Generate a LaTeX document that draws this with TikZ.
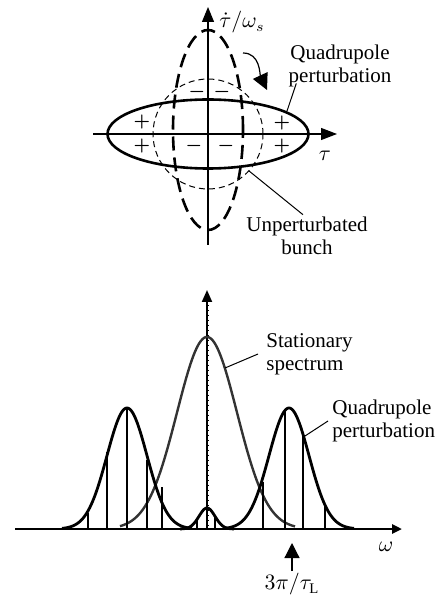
\documentclass[tikz,border=0pt]{standalone}
\usepackage{fontspec}
\setmainfont{Liberation Serif}
\usetikzlibrary{positioning,arrows.meta,shapes.geometric}

\begin{document}
\begin{tikzpicture}[x=0.5pt, y=0.5pt, >=Stealth,
  lbl/.style={font=\fontsize{10.5}{11.5}\selectfont, inner sep=1pt},
  sgn/.style={font=\fontsize{9}{9}\selectfont\boldmath, inner sep=0pt},
  stem/.style={line width=0.7pt},
  hump/.style={line width=1.4pt, line join=round}]
  \useasboundingbox (0,0) rectangle (435,-603);

  % phase plane
  \coordinate (o) at (208,-134);
  \draw[line width=0.6pt, -{Triangle[length=8pt,width=6pt]}] (93,-134) -- (337,-134) coordinate (taxis);
  \draw[line width=0.6pt, -{Triangle[length=7.5pt,width=6pt]}] (208,-245) -- (208,-7) coordinate (vaxis);
  \node[draw, circle, line width=0.5pt, dash pattern=on 3pt off 2pt, minimum size=55pt, inner sep=0pt] (bunch) at (o) {};
  \node[draw, ellipse, line width=1.3pt, dash pattern=on 7pt off 3.5pt, minimum width=35pt, minimum height=100pt, inner sep=0pt] (quadv) at (208,-130) {};
  \node[draw, ellipse, line width=1.3pt, minimum width=100.5pt, minimum height=34.5pt, inner sep=0pt] (quad) at (o) {};

  \node[sgn] (p1) at (142,-122) {$+$};
  \node[sgn] (p2) at (142,-146) {$+$};
  \node[sgn] (p3) at (282,-123) {$+$};
  \node[sgn] (p4) at (282,-146) {$+$};
  \node[sgn] (m1) at (194,-146) {$-$};
  \node[sgn] (m2) at (226,-146) {$-$};
  \node[sgn] (m3) at (197,-92) {$-$};
  \node[sgn] (m4) at (222,-92) {$-$};

  \node[lbl, anchor=base west, inner sep=0pt] (vlabel) at (219,-28) {$\dot{\tau}/\omega_s$};
  \node[lbl] (tlabel) at (325,-156) {$\tau$};

  \coordinate (rotfrom) at (243,-53);
  \coordinate (rotto) at (267,-90);
  \draw[line width=0.6pt, -{Triangle[length=8pt,width=8pt]}] (rotfrom) to[out=0, in=115] (rotto);

  \node[lbl, align=center] (quadlabel) at (340,-66) {Quadrupole\\perturbation};
  \draw[line width=0.5pt] ([xshift=5pt,yshift=3pt]quadlabel.south west) -- (quad.16);
  \node[lbl, align=center] (bunchlabel) at (307,-236) {Unperturbated\\bunch};
  \draw[line width=0.5pt] ([xshift=-2pt]bunchlabel.north) -- (bunch.-42);

  % spectrum
  \draw[line width=1.3pt, -{Triangle[length=5pt,width=4.5pt]}] (15,-529) -- (402,-529) coordinate (waxis);
  \draw[line width=1pt, -{Triangle[length=6pt,width=5pt]}] (207,-529) -- (207,-290) coordinate (saxis);
  \foreach \t in {300,305,...,525} \draw[line width=0.4pt] (207,-\t) -- ++(2,0);

  \draw[line width=1.2pt, black!80] plot[domain=120:295, samples=120] (\x, {-529+192*exp(-0.5*((\x-207)/30)*((\x-207)/30))});
  \draw[hump] plot[domain=62:192, samples=100] (\x, {-529+121*exp(-0.5*((\x-127)/20)*((\x-127)/20))});
  \draw[hump] plot[domain=224:354, samples=100] (\x, {-529+121*exp(-0.5*((\x-289)/20)*((\x-289)/20))});
  \draw[hump] plot[domain=180:234, samples=50] (\x, {-529+21*exp(-0.5*((\x-207)/8)*((\x-207)/8))});

  \foreach \sx/\sy in {88/513, 107/452, 127/408, 147/460, 162/487, 197/521, 215/515, 263/482, 285/409, 303/434, 325/504}
    \draw[stem] (\sx,-529) -- (\sx,-\sy);

  \node[lbl, align=left, anchor=west] (statlabel) at (264,-354) {Stationary\\spectrum};
  \coordinate (statpt) at (225,-368);
  \draw[line width=0.5pt] ([xshift=-3pt]statlabel.west) -- (statpt);

  \node[lbl, align=left, anchor=west] (quadlabel2) at (330,-421) {Quadrupole\\perturbation};
  \coordinate (quadpt) at (305,-436);
  \draw[line width=0.5pt] ([xshift=-1pt]quadlabel2.west) -- (quadpt);

  \coordinate (omtip) at (292,-543);
  \node[lbl, below=15pt of omtip, inner sep=0pt] (omlabel) {$3\pi/\tau_{\mathrm{L}}$};
  \draw[line width=0.6pt, -{Triangle[length=7.5pt,width=7.5pt]}] ([yshift=1pt]omlabel.north) -- (omtip);
  \node[lbl] (wlabel) at (386,-547) {$\omega$};
\end{tikzpicture}
\end{document}
